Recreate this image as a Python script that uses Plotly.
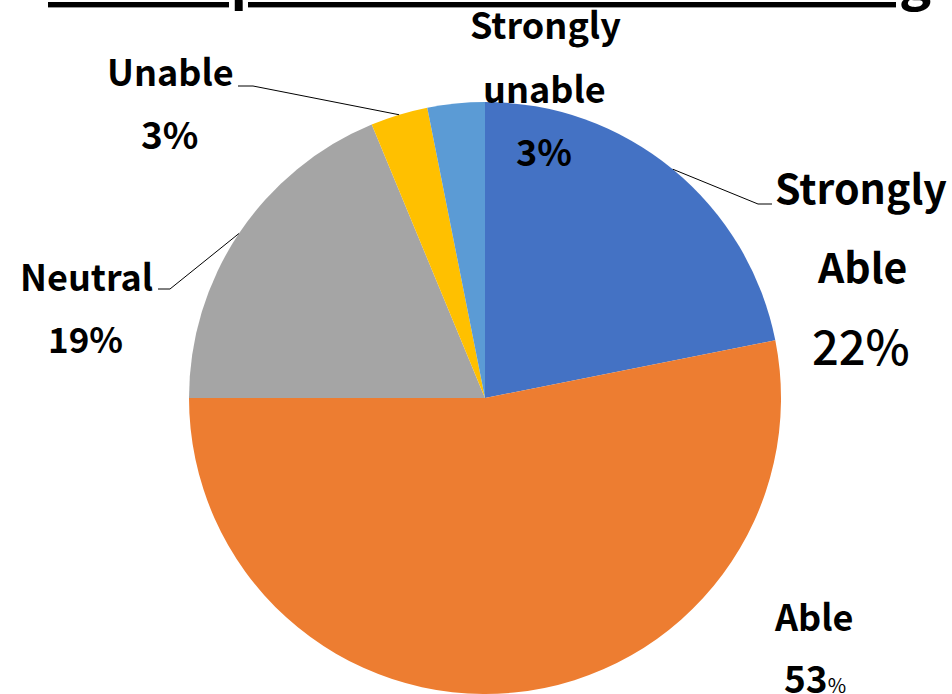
import math
import plotly.graph_objects as go

W, H = 952, 694

# ---- data ----
categories = ["Strongly Able", "Able", "Neutral", "Unable", "Strongly unable"]
counts = [7, 17, 6, 1, 1]
pct_labels = ["22%", "53%", "19%", "3%", "3%"]
colors = ["#4472C4", "#ED7D31", "#A5A5A5", "#FFC000", "#5B9BD5"]
title_text = "Develop skills of Problem Solving"

# ---- layout geometry (pixels) ----
PIE_CX, PIE_CY, PIE_R = 485, 398, 296
FONT = "Noto Sans CJK JP"


def px2paper(x, y):
    return x / W, 1 - y / H


dom_x = [(PIE_CX - PIE_R) / W, (PIE_CX + PIE_R) / W]
dom_y = [max(0, 1 - (PIE_CY + PIE_R) / H), 1 - (PIE_CY - PIE_R) / H]

fig = go.Figure(go.Pie(
    labels=categories, values=counts, sort=False, direction="clockwise",
    rotation=0, marker=dict(colors=colors, line=dict(width=0)),
    textinfo="none", hoverinfo="label+percent", domain=dict(x=dom_x, y=dom_y),
    showlegend=False,
))

annotations = []


def add_text(text, cx, baseline, size, weight="bold"):
    x, y = px2paper(cx, baseline - 0.36 * size)
    annotations.append(dict(
        text=text, x=x, y=y, xref="paper", yref="paper", xanchor="center",
        yanchor="middle", showarrow=False,
        font=dict(family=FONT, size=size, color="#000000", weight=weight),
    ))


# label text layout: (category index -> list of (text, cx, baseline, size, weight))
label_layout = {
    0: [(None, 861, 201, 41, "bold"), ("Able", 862, 280, 41, "bold"),
        ("PCT", 861, 361, 47, 500)],
    1: [("Able", 814, 628, 36, "bold"), ("PCT53", 815, 690, 37, "bold")],
    2: [("Neutral", 86, 288, 36, "bold"), ("PCT", 85, 350, 35, "bold")],
    3: [("Unable", 170, 83, 36, "bold"), ("PCT", 169, 146, 37, "bold")],
    4: [("Strongly", 545, 36, 36, "bold"), ("unable", 544, 100, 36, "bold"),
        ("PCT", 544, 163, 36, "bold")],
}

for i, items in label_layout.items():
    for text, cx, bl, size, wt in items:
        if text is None:
            text = categories[i].split()[0]
        elif text == "PCT":
            text = pct_labels[i]
        elif text == "PCT53":
            num = pct_labels[i].rstrip("%")
            text = num + "<span style='font-size:20px;font-weight:normal'>%</span>"
        add_text(text, cx, bl, size, wt)

# title (clipped at top)
tx, ty = px2paper(490, 0)
annotations.append(dict(
    text="<u>" + title_text + "</u>", x=tx, y=1, xref="paper", yref="paper",
    xanchor="center", yanchor="middle", yshift=25, showarrow=False,
    font=dict(family=FONT, size=54, color="#000000", weight="bold"),
))

# leader lines: from slice mid-angle edge point to label elbow
leader_layout = {0: [(758, 204), (772, 204)], 2: [(170, 289), (158, 289)],
                 3: [(253, 86), (238, 86)]}
total = sum(counts)
shapes = []
cum = 0
for i, v in enumerate(counts):
    mid = (cum + v / 2) / total
    cum += v
    if i not in leader_layout:
        continue
    th = 2 * math.pi * mid
    ex = PIE_CX + PIE_R * math.sin(th)
    ey = PIE_CY - PIE_R * math.cos(th)
    pts = [(ex, ey)] + leader_layout[i]
    path = ""
    for k, (px, py) in enumerate(pts):
        X, Y = px2paper(px, py)
        path += ("M" if k == 0 else " L") + f"{X:.5f},{Y:.5f}"
    shapes.append(dict(type="path", path=path, xref="paper", yref="paper",
                       line=dict(color="#000000", width=1)))

fig.update_layout(
    width=W, height=H, margin=dict(l=0, r=0, t=0, b=0),
    paper_bgcolor="#FFFFFF", plot_bgcolor="#FFFFFF",
    annotations=annotations, shapes=shapes,
)

fig.write_html("out.html", config={"displayModeBar": False},
               post_script="document.body.style.margin='0';document.body.style.overflow='hidden';")
